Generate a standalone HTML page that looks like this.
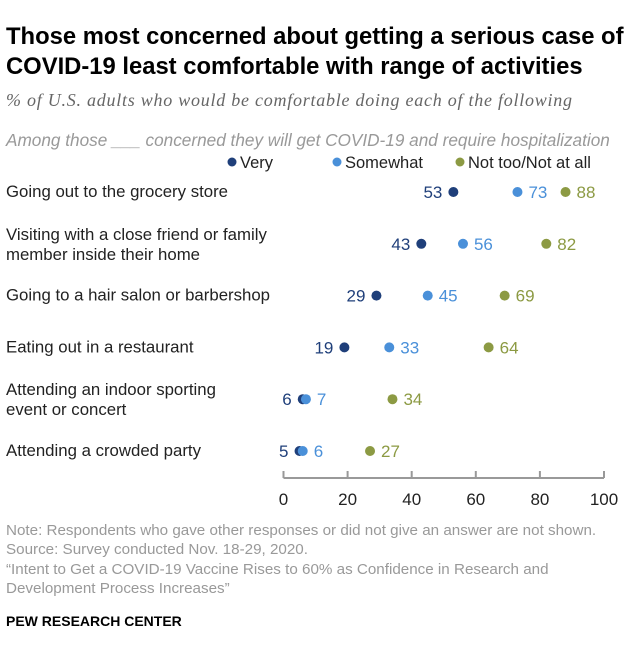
<!DOCTYPE html>
<html><head><meta charset="utf-8"><style>
body{margin:0;background:#fff;font-family:"Liberation Sans",Arial,sans-serif;}
#wrap{position:relative;width:640px;height:658px;overflow:hidden;}
.t{position:absolute;white-space:nowrap;}
</style></head><body>
<div id="wrap">
<div class="t" style="left:6px;top:22px;font-size:23.8px;font-weight:bold;line-height:30px;color:#000;">Those most concerned about getting a serious case of<br>COVID-19 least comfortable with range of activities</div>
<div class="t" style="left:6px;top:90px;font-size:18px;letter-spacing:0.75px;font-style:italic;color:#666;font-family:'Liberation Serif',serif;">% of U.S. adults who would be comfortable doing each of the following</div>
<div class="t" style="left:6px;top:130px;font-size:17.2px;font-style:italic;color:#999;">Among those ___ concerned they will get COVID-19 and require hospitalization</div>
<svg id="c" width="640" height="658" style="position:absolute;left:0;top:0"></svg>
<div class="t" style="left:6px;top:521px;font-size:15.2px;line-height:19.3px;color:#999;">Note: Respondents who gave other responses or did not give an answer are not shown.<br>Source: Survey conducted Nov. 18-29, 2020.<br>“Intent to Get a COVID-19 Vaccine Rises to 60% as Confidence in Research and<br>Development Process Increases”</div>
<div class="t" style="left:6px;top:613px;font-size:14px;font-weight:bold;color:#000;">PEW RESEARCH CENTER</div>
</div>
<script>
const categories=["Going out to the grocery store","Visiting with a close friend or family|member inside their home","Going to a hair salon or barbershop","Eating out in a restaurant","Attending an indoor sporting|event or concert","Attending a crowded party"];
const very=[53,43,29,19,6,5];
const somewhat=[73,56,45,33,7,6];
const notToo=[88,82,69,64,34,27];
const ticks=[0,20,40,60,80,100];
const NS="http://www.w3.org/2000/svg";
const svg=document.getElementById('c');
const x=v=>283.5+v*3.205;
const rowY=i=>192+i*51.8;
const C={v:"#1f3f7a",s:"#4a90d9",n:"#8c9a43"};
function mk(t,a,txt){const e=document.createElementNS(NS,t);for(const k in a)e.setAttribute(k,a[k]);if(txt!==undefined)e.textContent=txt;svg.appendChild(e);return e;}
const leg=[["Very",C.v,240],["Somewhat",C.s,345],["Not too/Not at all",C.n,468]];
leg.forEach(l=>{
 const d=mk('circle',{cx:l[2]-8,cy:162,r:4.5,fill:l[1]});
 
 
 const t=mk('text',{x:l[2],y:168,'font-size':16.5,fill:'#222'},l[0]);
 
 
});
categories.forEach((c,i)=>{
 const y=rowY(i);const lines=c.split('|');
 lines.forEach((ln,j)=>{
  const t=mk('text',{x:6,y:(lines.length>1?y-4+j*20:y+5),'font-size':16.8,fill:'#222'},ln);
  
  
 });
 [[notToo,C.n,'start'],[very,C.v,'end'],[somewhat,C.s,'start']].forEach(s=>{
  const v=s[0][i];
  const d=mk('circle',{cx:x(v),cy:y,r:5,fill:s[1]});
  
  
  const tx=s[2]==='end'?x(v)-11:x(v)+11;
  const t=mk('text',{x:tx,y:y+6,'font-size':17,fill:s[1],'text-anchor':s[2]},v);
  
  
 });
});
const ax=mk('line',{x1:x(0),x2:x(100),y1:478,y2:478,stroke:'#999','stroke-width':2});


ticks.forEach(t=>{
 const l=mk('line',{x1:x(t),x2:x(t),y1:471,y2:478,stroke:'#999','stroke-width':2});
 
 
 const tl=mk('text',{x:x(t),y:505,'font-size':17,fill:'#222','text-anchor':'middle'},t);
 
 
});
</script>
</body></html>
